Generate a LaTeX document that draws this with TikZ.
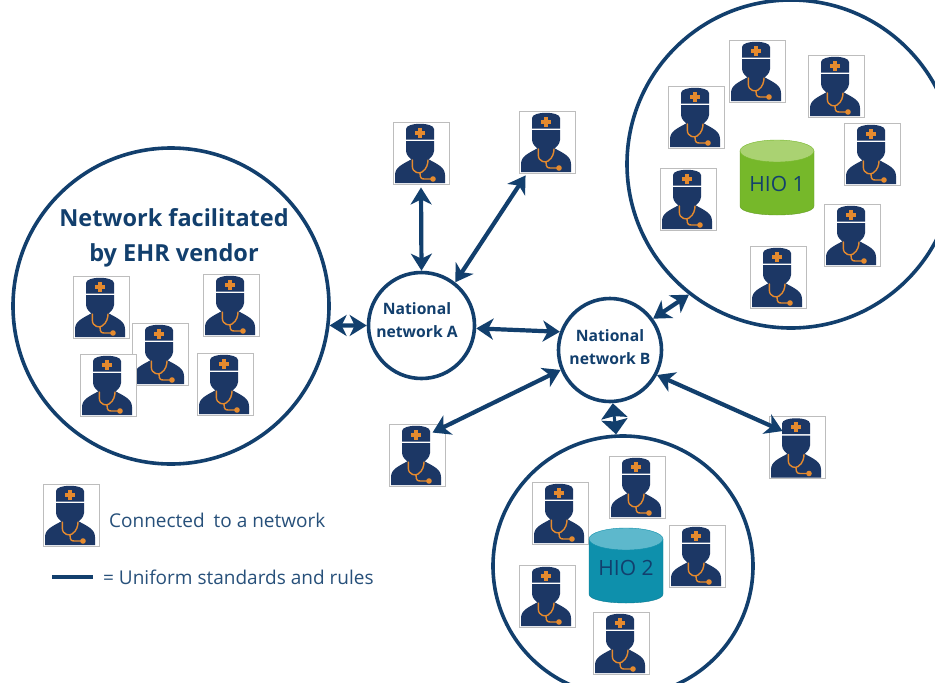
\documentclass[tikz,border=0pt]{standalone}
\usepackage{fontspec}
\setmainfont{Open Sans}
\usetikzlibrary{arrows.meta}
\definecolor{navy}{HTML}{123F6D}
\definecolor{docblue}{HTML}{1C3765}
\definecolor{docorange}{HTML}{E58A2E}
\definecolor{tilegray}{HTML}{BDBDBD}
\definecolor{txt}{HTML}{27507A}
\tikzset{
  x=1pt,y=-1pt,
  tile/.style={draw=tilegray,line width=0.9pt,fill=white,minimum width=56pt,minimum height=62pt,inner sep=0pt},
  bigc/.style={circle,draw=navy,line width=3.6pt,fill=white,inner sep=0pt},
  natlabel/.style={align=center,text=navy,inner sep=0pt,font=\bfseries\fontsize{15.7}{23}\selectfont},
  link/.style={draw=navy,line width=4.2pt,{Stealth[length=17pt,width=21pt,inset=5pt]}-{Stealth[length=17pt,width=21pt,inset=5pt]}},
  shortlink/.style={draw=navy,line width=3pt,{Stealth[length=15pt,width=26pt,inset=2pt]}-{Stealth[length=15pt,width=26pt,inset=2pt]}},
  label/.style={text=txt,inner sep=0pt,anchor=west,font=\fontsize{19}{23}\selectfont},
  pics/docfig/.style={code={
    \fill[docblue] (-26,30) -- (-26,22) .. controls (-26,14) and (-18,11) .. (-9,6) -- (7,6) .. controls (16,11) and (24,14) .. (24,22) -- (24,30) -- cycle;
    \fill[docblue] (-15,-12) -- (13,-12) -- (13,-2) .. controls (12.5,3) and (9,5) .. (7,7) -- (-9,7) .. controls (-11,5) and (-14.5,3) .. (-15,-2) -- cycle;
    \fill[docblue] (-15,-13.5) -- (-15,-24) .. controls (-15,-31) and (13,-31) .. (13,-24) -- (13,-13.5) -- cycle;
    \fill[docorange] (-3,-25.5) rectangle (1,-15.5);
    \fill[docorange] (-6,-22.5) rectangle (4,-18.5);
    \draw[docorange,line width=1.4pt,line cap=round] (-8.7,7) -- (-8.7,13) .. controls (-8.7,20) and (-1,21) .. (1,19) .. controls (6,16) and (7,10) .. (7,7);
    \draw[docorange,line width=1.4pt] (-1,20) .. controls (-1,26) and (1,26) .. (4,26) -- (11,26);
    \fill[docorange] (12,26) circle (2.8);
  }}
}
\newcommand{\doctor}[3]{\node[tile] (#1) at (#2,#3) {}; \pic at (#1) {docfig};}
\newcommand{\hio}[8]{% name x1 ytop x2 ybottom body top texty
  \path[fill=#6,draw=#6!85!black,line width=0.4pt] (#2,#3+11) -- (#2,#5-9) .. controls (#2,#5+3) and (#4,#5+3) .. (#4,#5-9) -- (#4,#3+11) -- cycle;
  \path[fill=#7,draw=#6,line width=0.4pt] ({(#2+#4)/2},#3+11) ellipse ({(#4-#2)/2} and 11);
  \node[inner sep=0pt,text=navy,font=\fontsize{21}{25}\selectfont] (#1) at ({(#2+#4)/2},#8) {HIO #1};
}
\definecolor{hioA}{HTML}{76B82A}
\definecolor{hioAt}{HTML}{AAD272}
\definecolor{hioB}{HTML}{0E90AC}
\definecolor{hioBt}{HTML}{5DB8CC}
\begin{document}
\begin{tikzpicture}
\useasboundingbox (0,0) rectangle (935,683);
\clip (0,0) rectangle (935,683);
\fill[white] (0,0) rectangle (935,683);

\node[bigc,minimum size=316pt] (vendor) at (171,306) {};
\node[bigc,minimum size=328pt] (circA) at (791,164) {};
\node[bigc,minimum size=260pt] (circB) at (623,566) {};
\node[bigc,minimum size=106pt] (natA) at (421.5,325.5) {};
\node[bigc,minimum size=103pt] (natB) at (610,350) {};
\node[natlabel] (natAtext) at (417,320.5) {National\\network A};
\node[natlabel] (natBtext) at (610,347.5) {National\\network B};

\node[text=navy,align=center,inner sep=0pt,font=\bfseries\fontsize{23.5}{35}\selectfont] (vendortitle) at (174,237.5) {Network facilitated\\by EHR vendor};

\doctor{v1}{101}{307}
\doctor{v2}{231}{305}
\doctor{v3}{160}{354}
\doctor{v4}{108}{385}
\doctor{v5}{225}{384}

\doctor{a1}{696}{117}
\doctor{a2}{757}{71}
\doctor{a3}{836}{86}
\doctor{a4}{872}{154}
\doctor{a5}{688}{199}
\doctor{a6}{852}{235}
\doctor{a7}{778}{277}

\doctor{b1}{560}{513}
\doctor{b2}{637}{487}
\doctor{b3}{697}{556}
\doctor{b4}{547}{596}
\doctor{b5}{621}{643}

\doctor{t1}{421}{153}
\doctor{t2}{547}{142}
\doctor{s1}{417}{455}
\doctor{s2}{797}{447.5}
\doctor{key}{71}{515}

\hio{1}{740}{140}{814}{215}{hioA}{hioAt}{184}
\hio{2}{589}{528}{663}{603}{hioB}{hioBt}{568}

\draw[link] (vendor.353) -- (natA.180);
\draw[link] (natA.north) -- ([yshift=-3pt]t1.south);
\draw[link] (natA.52) -- ([shift={(7,2)}]t2.south west);
\draw[link] (natA.357) -- (natB.160);
\draw[link] (natB.36) -- (circA.232);
\draw[link] (natB.332) -- ([shift={(14,15)}]s2.north west);
\draw[link] (natB.202) -- ([shift={(44,9)}]s1.north west);
\draw[shortlink] (natB.273) -- (circB.93);

\node[label] (keytext) at (109,520) {Connected\hspace{4pt} to a network};
\coordinate (keyA) at (52,577);
\coordinate (keyB) at (93,577);
\draw[navy,line width=3.6pt] (keyA) -- (keyB);
\node[label] (linetext) at (103,577) {= Uniform standards and rules};
\end{tikzpicture}
\end{document}
